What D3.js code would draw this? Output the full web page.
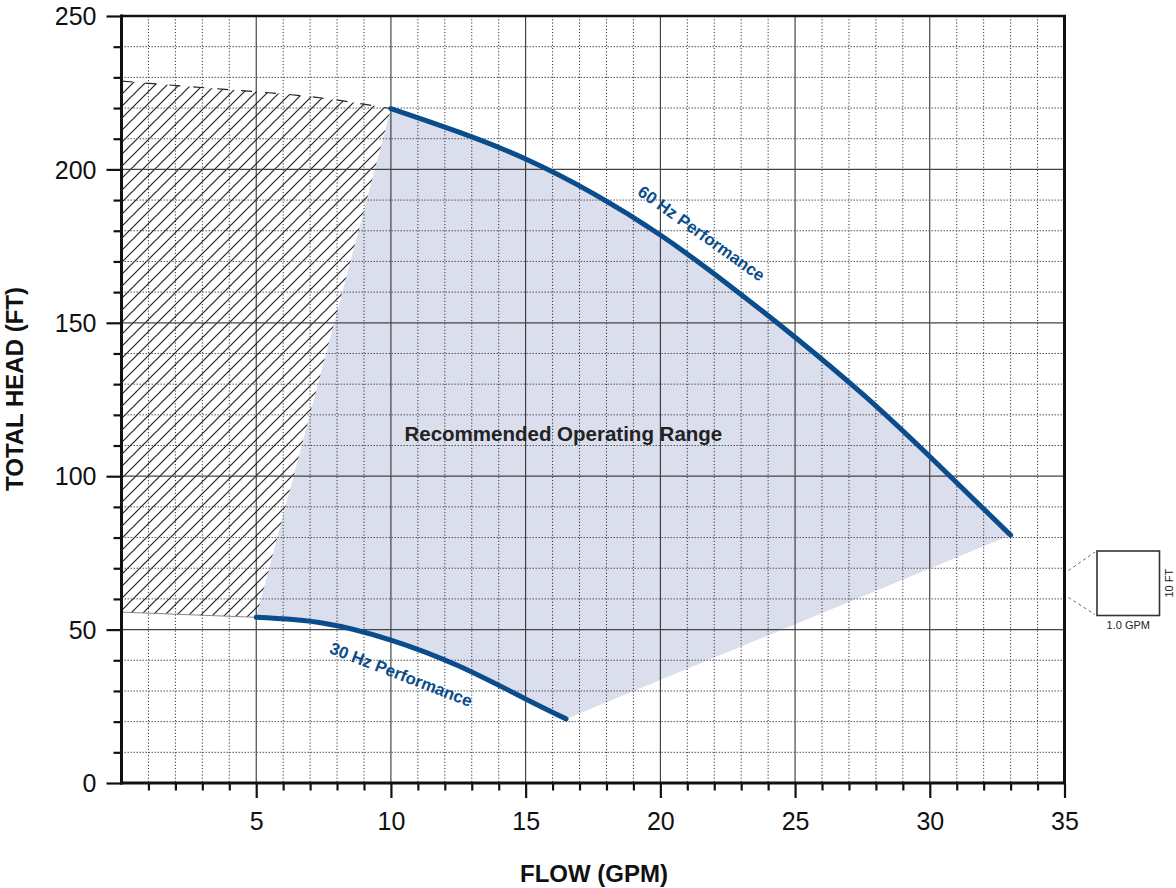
<!DOCTYPE html>
<html><head><meta charset="utf-8">
<script src="https://cdn.jsdelivr.net/npm/d3@7"></script>
<style>
html,body{margin:0;padding:0;background:#fff;}
svg{display:block;font-family:"Liberation Sans",Arial,Helvetica,sans-serif;}
</style></head>
<body>
<svg id="chart" width="1176" height="888"></svg>
<script>
// ---- data ----
const xTicks = [5, 10, 15, 20, 25, 30, 35];
const yTicks = [0, 50, 100, 150, 200, 250];
const flow60 = [10, 12.5, 15, 17.5, 20, 22.5, 25, 27.5, 30, 33];
const head60 = [219.8, 212.2, 203.4, 192.2, 178.6, 162.6, 145.3, 126.8, 106.4, 80.8];
const flow30 = [5.0, 7.5, 10.0, 12.5, 15.0, 16.5];
const head30 = [54.0, 52.1, 46.6, 38.2, 27.4, 20.9];
const hatchTopFlow = [0, 2.5, 5, 7.5, 10];
const hatchTopHead = [228.8, 227.0, 225.3, 223.2, 219.8];
const hatchBottomFlow = [0, 5];
const hatchBottomHead = [55.7, 54.0];
const labels = {
  x: "FLOW (GPM)", y: "TOTAL HEAD (FT)",
  range: "Recommended Operating Range",
  hz60: "60 Hz Performance", hz30: "30 Hz Performance",
  insetX: "1.0 GPM", insetY: "10 FT"
};

// ---- layout ----
const svg = d3.select("#chart");
const L = 121.5, R = 1064.5, T = 16, B = 783;
const x = d3.scaleLinear().domain([0, 35]).range([L, R]);
const y = d3.scaleLinear().domain([0, 250]).range([B, T]);
const blue = "#0b4d8c";
const shade = "#dadeed";

const pts = (xs, ys) => xs.map((v, i) => [v, ys[i]]);
const p60 = pts(flow60, head60);
const p30 = pts(flow30, head30);

const defs = svg.append("defs");
const hs = 12;
const pat = defs.append("pattern").attr("id", "hatch")
  .attr("patternUnits", "userSpaceOnUse").attr("width", hs).attr("height", hs);
pat.append("path").attr("d", `M-1,${hs + 1} L${hs + 1},-1 M-3,3 L3,-3 M${hs - 3},${hs + 3} L${hs + 3},${hs - 3}`)
  .attr("stroke", "#222").attr("stroke-width", 1.2);

const lineC = d3.line().x(d => x(d[0])).y(d => y(d[1])).curve(d3.curveNatural);
const lineS = d3.line().x(d => x(d[0])).y(d => y(d[1]));

// shaded operating range
const p60r = p60.slice().reverse();
const shadePath = lineC(p30) + lineC(p60r).replace(/^M/, "L") + "Z";
svg.append("path").attr("d", shadePath).attr("fill", shade);

// hatched region
const hTop = pts(hatchTopFlow, hatchTopHead);
const hBot = pts(hatchBottomFlow, hatchBottomHead);
const hatchPath = lineC(hTop) + "L" + x(p30[0][0]) + "," + y(p30[0][1]) + lineS(hBot.slice().reverse()).replace(/^M/, "L") + "Z";
svg.append("path").attr("d", hatchPath).attr("fill", "url(#hatch)");
svg.append("path").attr("d", lineC(hTop)).attr("fill", "none")
  .attr("stroke", "#222").attr("stroke-width", 1.2).attr("stroke-dasharray", "11,13");
svg.append("path").attr("d", lineS(hBot)).attr("fill", "none")
  .attr("stroke", "#888").attr("stroke-width", 1);

// grid
const g = svg.append("g");
for (let v = 1; v < 35; v++) {
  const major = v % 5 === 0;
  g.append("line").attr("x1", x(v)).attr("x2", x(v)).attr("y1", T).attr("y2", B)
    .attr("stroke", major ? "#222" : "#333").attr("stroke-width", 1)
    .attr("stroke-dasharray", major ? null : "1.2,2");
}
for (let v = 10; v < 250; v += 10) {
  const major = v % 50 === 0;
  g.append("line").attr("x1", L).attr("x2", R).attr("y1", y(v)).attr("y2", y(v))
    .attr("stroke", major ? "#444" : "#555").attr("stroke-width", major ? 1.2 : 1)
    .attr("stroke-dasharray", major ? null : "1.5,1.5");
}

// curves
svg.append("path").attr("d", lineC(p60)).attr("fill", "none").attr("stroke", blue)
  .attr("stroke-width", 5).attr("stroke-linecap", "round");
svg.append("path").attr("d", lineC(p30)).attr("fill", "none").attr("stroke", blue)
  .attr("stroke-width", 5).attr("stroke-linecap", "round");

// labels in plot
svg.append("text").attr("x", x(16.4)).attr("y", y(111.5)).attr("text-anchor", "middle")
  .attr("font-size", 20.5).attr("font-weight", "bold").attr("fill", "#222").text(labels.range);
svg.append("text").attr("transform", `translate(${x(21.4)},${y(177.6)}) rotate(35.5)`)
  .attr("text-anchor", "middle").attr("font-size", 16.8).attr("font-weight", "bold")
  .attr("fill", blue).text(labels.hz60);
svg.append("text").attr("transform", `translate(${x(10.3)},${y(33.6)}) rotate(21)`)
  .attr("text-anchor", "middle").attr("font-size", 16.8).attr("font-weight", "bold")
  .attr("fill", blue).text(labels.hz30);

// axes frame
svg.append("line").attr("x1", L - 1).attr("x2", R + 1.5).attr("y1", T).attr("y2", T)
  .attr("stroke", "#111").attr("stroke-width", 2.5);
svg.append("line").attr("x1", R).attr("x2", R).attr("y1", T).attr("y2", B)
  .attr("stroke", "#111").attr("stroke-width", 3);

const xAxis = d3.axisBottom(x).tickValues(d3.range(1, 36)).tickSizeOuter(0)
  .tickFormat(d => xTicks.includes(d) ? d : "");
const xa = svg.append("g").attr("transform", `translate(0,${B})`).call(xAxis);
xa.select(".domain").attr("stroke", "#111").attr("stroke-width", 3).attr("d", `M${L - 1.5},0H${R + 1.5}`);
xa.selectAll(".tick line").attr("stroke", "#111").attr("stroke-width", 2.2)
  .attr("y2", d => d % 5 === 0 ? 15 : 7.5);
xa.selectAll(".tick text").attr("font-size", 25).attr("fill", "#111")
  .attr("font-family", "Liberation Sans, Arial, sans-serif").attr("dy", null).attr("y", 47);

const yAxis = d3.axisLeft(y).tickValues(d3.range(0, 251, 10)).tickSizeOuter(0)
  .tickFormat(d => yTicks.includes(d) ? d : "");
const ya = svg.append("g").attr("transform", `translate(${L},0)`).call(yAxis);
ya.select(".domain").attr("stroke", "#111").attr("stroke-width", 3).attr("d", `M0,${T - 1.5}V${B + 1.5}`);
ya.selectAll(".tick line").attr("stroke", "#111").attr("stroke-width", 2.2)
  .attr("x2", d => d % 50 === 0 ? -15 : -8);
ya.selectAll(".tick text").attr("font-size", 25).attr("fill", "#111")
  .attr("font-family", "Liberation Sans, Arial, sans-serif").attr("x", -25).attr("dy", "0.35em");

// axis titles
svg.append("text").attr("x", 594).attr("y", 882).attr("text-anchor", "middle")
  .attr("font-size", 24).attr("font-weight", "bold").attr("fill", "#111").text(labels.x);
svg.append("text").attr("transform", "translate(23,389) rotate(-90)").attr("text-anchor", "middle")
  .attr("font-size", 24).attr("font-weight", "bold").attr("fill", "#111").text(labels.y);

// scale inset
const bx0 = 1097, bx1 = 1159.5, by0 = 551, by1 = 615.5;
svg.append("rect").attr("x", bx0).attr("y", by0).attr("width", bx1 - bx0).attr("height", by1 - by0)
  .attr("fill", "#fff").attr("stroke", "#333").attr("stroke-width", 1.6);
svg.append("line").attr("x1", R + 4).attr("y1", 570.5).attr("x2", bx0 - 2).attr("y2", by0 + 1)
  .attr("stroke", "#666").attr("stroke-width", 1).attr("stroke-dasharray", "3,3");
svg.append("line").attr("x1", R + 4).attr("y1", 597.5).attr("x2", bx0 - 2).attr("y2", by1 - 1)
  .attr("stroke", "#666").attr("stroke-width", 1).attr("stroke-dasharray", "3,3");
svg.append("text").attr("x", (bx0 + bx1) / 2).attr("y", 628.5).attr("text-anchor", "middle")
  .attr("font-size", 11).attr("fill", "#222").text(labels.insetX);
svg.append("text").attr("transform", `translate(1173,${(by0 + by1) / 2}) rotate(-90)`)
  .attr("text-anchor", "middle").attr("font-size", 11).attr("fill", "#222").text(labels.insetY);
</script>
</body></html>
